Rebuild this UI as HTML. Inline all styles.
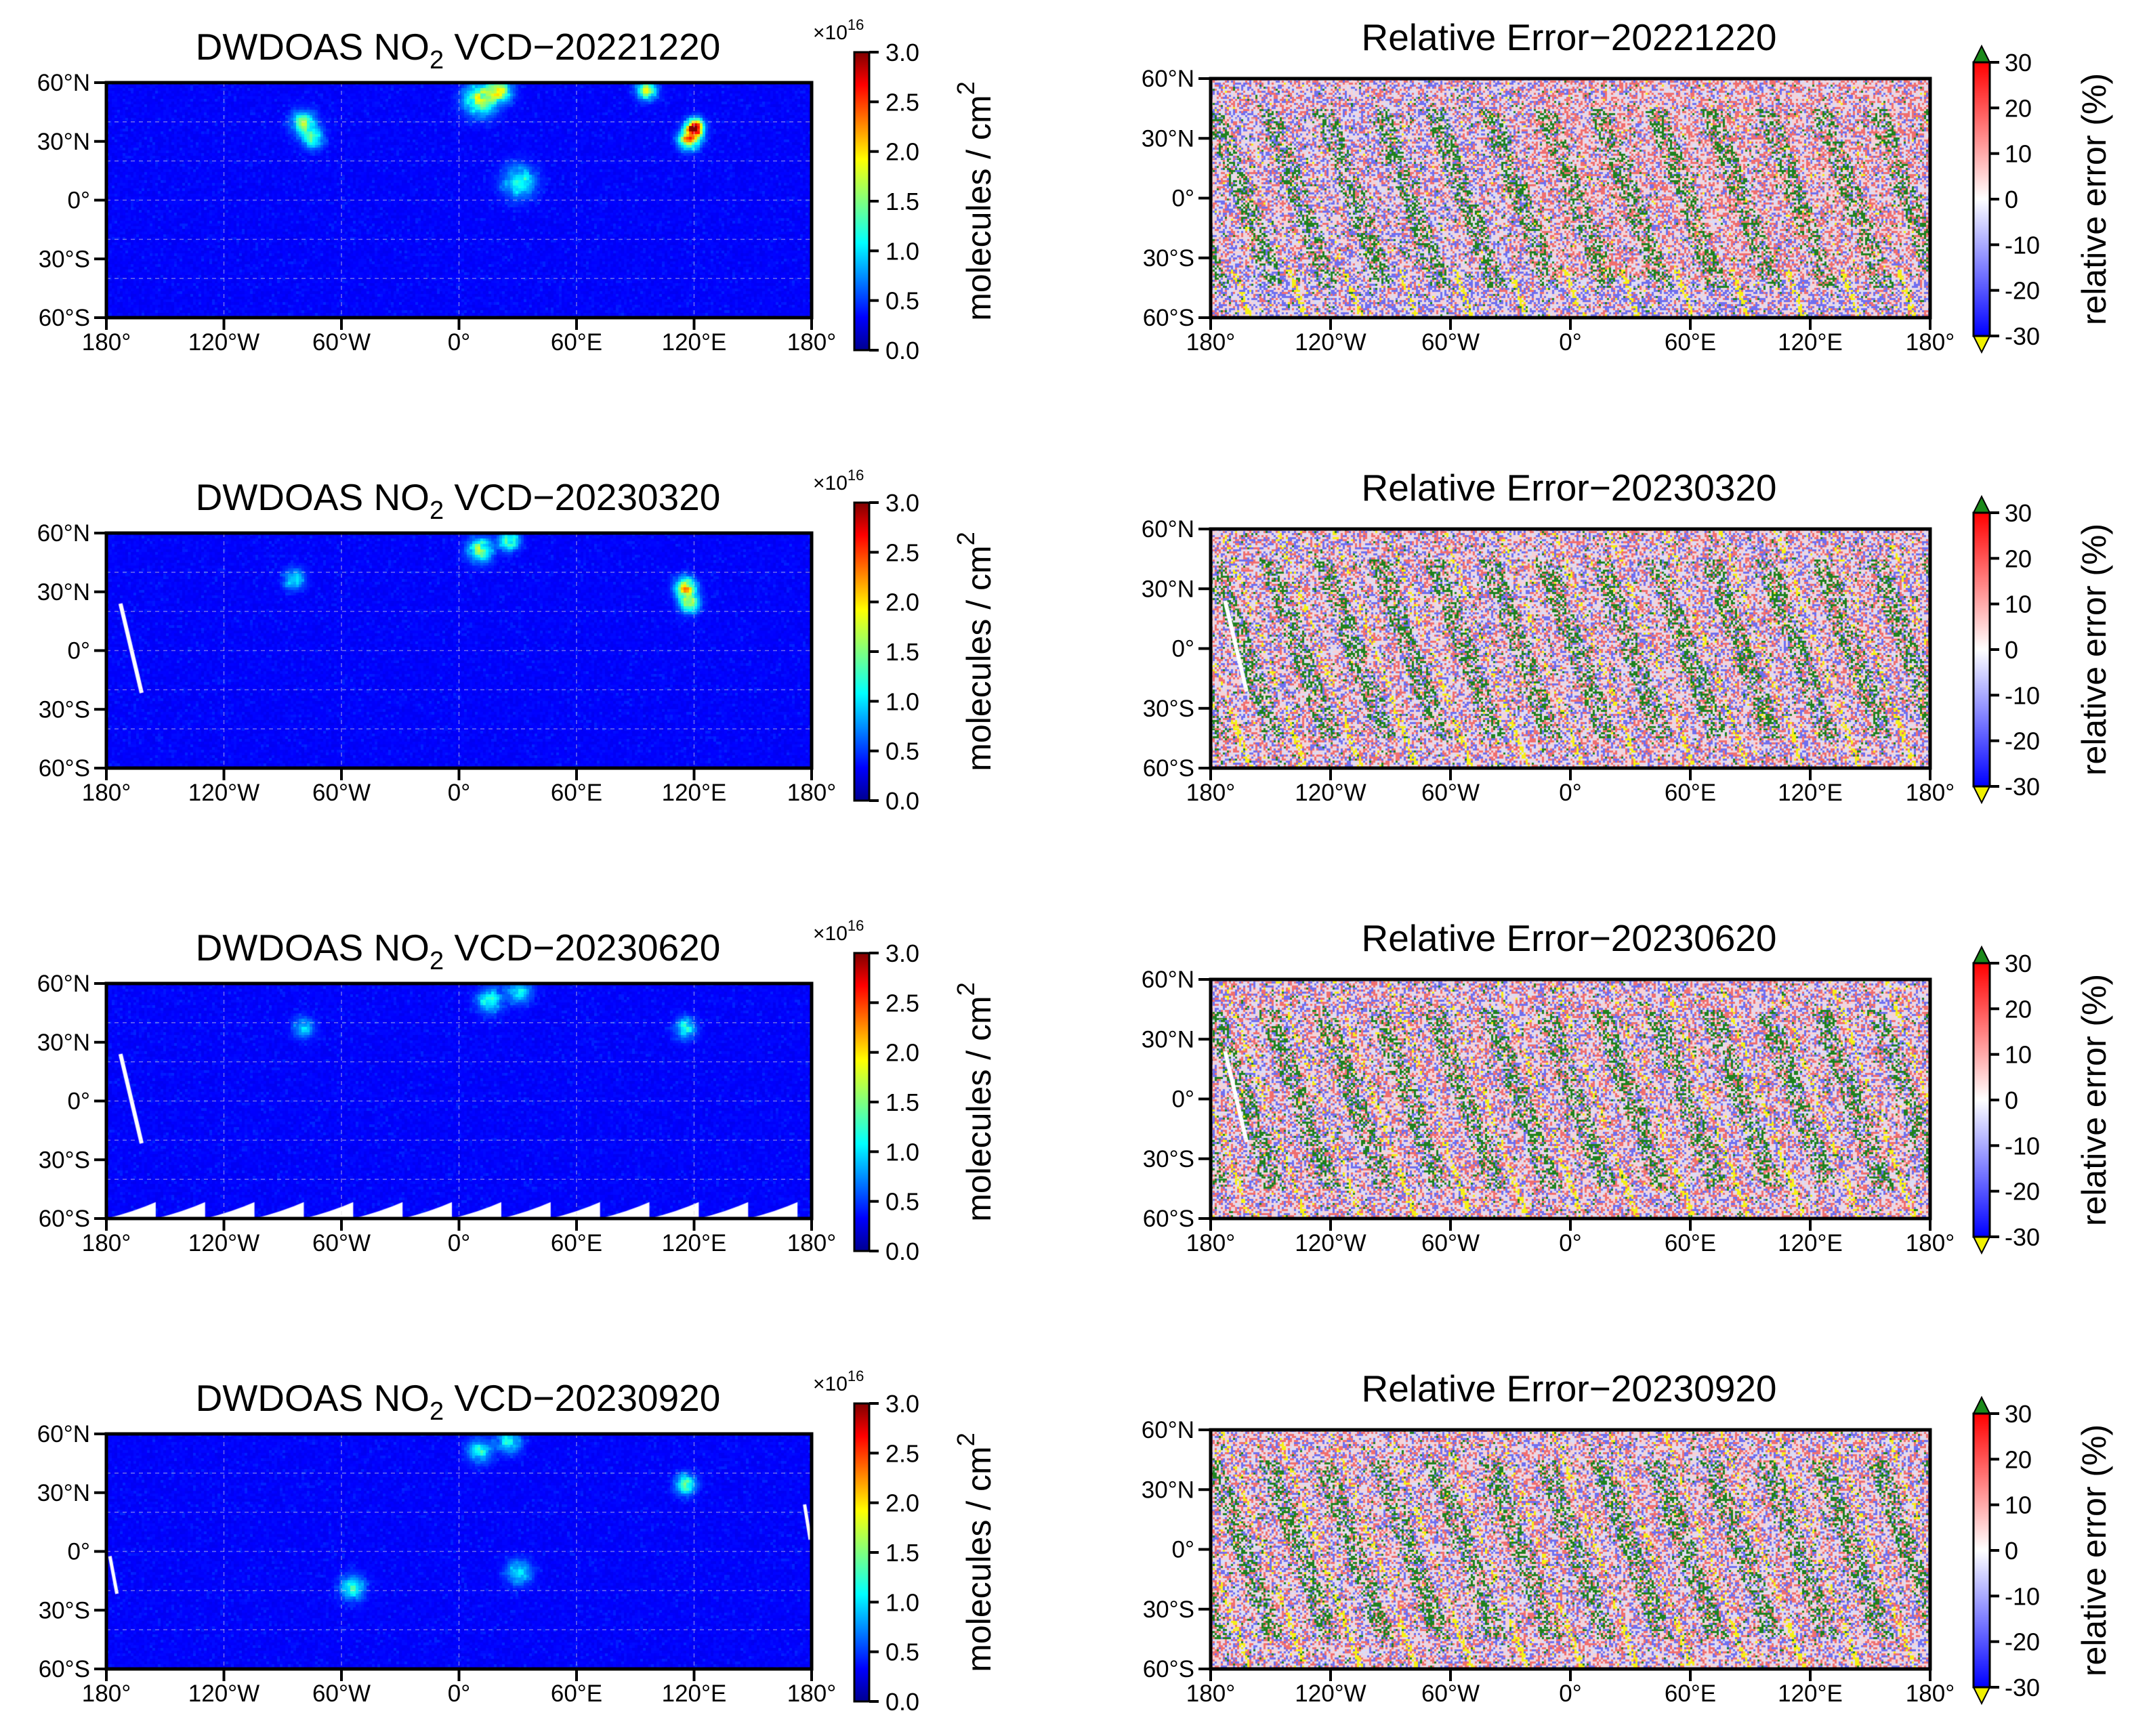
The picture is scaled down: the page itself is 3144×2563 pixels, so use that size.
<!DOCTYPE html>
<html><head><meta charset="utf-8"><style>
html,body{margin:0;padding:0;background:#fff;width:3144px;height:2563px;overflow:hidden}
#root{position:relative;width:3144px;height:2563px}
canvas{position:absolute}
svg{position:absolute;left:0;top:0}
text{font-family:"Liberation Sans",sans-serif;fill:#000}
</style></head><body>
<div id="root">
<svg id="ax" width="3144" height="2563">
<defs>
<linearGradient id="jet" x1="0" y1="1" x2="0" y2="0">
<stop offset="0" stop-color="#00008f"/><stop offset="0.11" stop-color="#0000ff"/><stop offset="0.36" stop-color="#00ffff"/><stop offset="0.5" stop-color="#7fff7f"/><stop offset="0.64" stop-color="#ffff00"/><stop offset="0.89" stop-color="#ff0000"/><stop offset="1" stop-color="#800000"/>
</linearGradient>
<linearGradient id="bwr" x1="0" y1="1" x2="0" y2="0">
<stop offset="0" stop-color="#0000ff"/><stop offset="0.5" stop-color="#ffffff"/><stop offset="1" stop-color="#ff0000"/>
</linearGradient>
</defs>
</svg>
</div>
<script>
const dates=["20221220","20230320","20230620","20230920"];
const lonTicks=[-180,-120,-60,0,60,120,180];
const lonLabels=["180°","120°W","60°W","0°","60°E","120°E","180°"];
const latTicks=[60,30,0,-30,-60];
const latLabels=["60°N","30°N","0°","30°S","60°S"];
const vcdTicks=[0,0.5,1,1.5,2,2.5,3];
const vcdLabels=["0.0","0.5","1.0","1.5","2.0","2.5","3.0"];
const errTicks=[-30,-20,-10,0,10,20,30];
const errLabels=["-30","-20","-10","0","10","20","30"];
const hotLon=[[120,117,10,20,-80,-75,30,95],[115,117,10,25,-85],[115,15,30,-80],[115,10,25,-55,30]];
const hotLat=[[38,32,52,57,40,32,10,57],[33,25,52,57,37],[38,52,57,38],[35,52,57,-18,-10]];
const hotVal=[[2.9,2.0,1.3,1.3,1.1,1.0,0.9,1.3],[1.6,1.2,1.2,1.1,0.8],[0.9,0.9,0.8,0.7],[1.1,0.8,0.8,0.9,0.8]];
const hotRad=[[4,5,8,6,6,5,8,5],[5,5,6,5,5],[5,6,6,5],[5,6,6,6,6]];

const svg=document.getElementById('ax');const root=document.getElementById('root');
const NS='http://www.w3.org/2000/svg';
function mk(tag,attrs,parent){const e=document.createElementNS(NS,tag);for(const k in attrs)e.setAttribute(k,attrs[k]);(parent||svg).appendChild(e);return e;}
function hash(a,b,c){let h=(a*374761393+b*668265263+c*2147483647)|0;h=(h^(h>>>13))*1274126177|0;h=h^(h>>>16);return ((h>>>0)%10000)/10000;}
function jet(v){v=Math.max(0,Math.min(1,v));const r=Math.max(0,Math.min(1,1.5-Math.abs(4*v-3))),g=Math.max(0,Math.min(1,1.5-Math.abs(4*v-2))),b=Math.max(0,Math.min(1,1.5-Math.abs(4*v-1)));return [r*255,g*255,b*255];}

function drawAxes(x0,x1,y0,y1,g){
  const X=l=>x0+(l+180)/360*(x1-x0), Y=t=>y0+(60-t)/120*(y1-y0);
  [-120,-60,0,60,120].forEach(l=>mk('line',{x1:X(l),x2:X(l),y1:y0,y2:y1,stroke:'#ddd','stroke-width':1.5,'stroke-dasharray':'6 6',opacity:0.5},g));
  [40,20,0,-20,-40].forEach(t=>mk('line',{x1:x0,x2:x1,y1:Y(t),y2:Y(t),stroke:'#ddd','stroke-width':1.5,'stroke-dasharray':'6 6',opacity:0.5},g));
  mk('rect',{x:x0,y:y0,width:x1-x0,height:y1-y0,fill:'none',stroke:'#000','stroke-width':5},g);
  lonTicks.forEach((l,i)=>{mk('line',{x1:X(l),x2:X(l),y1:y1,y2:y1+18,stroke:'#000','stroke-width':4},g);
    const t=mk('text',{x:X(l),y:y1+48,'font-size':35,'text-anchor':'middle'},g);t.textContent=lonLabels[i];});
  latTicks.forEach((l,i)=>{mk('line',{x1:x0-18,x2:x0,y1:Y(l),y2:Y(l),stroke:'#000','stroke-width':4},g);
    const t=mk('text',{x:x0-24,y:Y(l)+12,'font-size':35,'text-anchor':'end'},g);t.textContent=latLabels[i];});
  return {X,Y};
}

function vcdMap(r,x0,x1,y0,y1){
  const w=x1-x0,h=y1-y0;const c=document.createElement('canvas');c.width=w;c.height=h;
  c.style.left=x0+'px';c.style.top=y0+'px';
  
  root.insertBefore(c,svg);const ctx=c.getContext('2d');const im=ctx.createImageData(w,h);
  const s=4;
  for(let py=0;py<h;py+=s)for(let px=0;px<w;px+=s){
    const lon=-180+px/w*360,lat=60-py/h*120;
    let v=0.33+0.08*hash(px>>2,py>>2,r)+0.08*(hash(px>>2,py>>2,r+7)>0.9?1:0);
    for(let k=0;k<hotLon[r].length;k++){const d2=((lon-hotLon[r][k])**2+(lat-hotLat[r][k])**2)/(hotRad[r][k]**2);v+=hotVal[r][k]*Math.exp(-d2)*(0.7+0.5*hash(px>>3,py>>3,k));}
    let col=jet(v/3);
    for(let yy=0;yy<s&&py+yy<h;yy++)for(let xx=0;xx<s&&px+xx<w;xx++){const i=((py+yy)*w+px+xx)*4;im.data[i]=col[0];im.data[i+1]=col[1];im.data[i+2]=col[2];im.data[i+3]=255;}
  }
  ctx.putImageData(im,0,0);
  if(r===1||r===2){ctx.strokeStyle='#fff';ctx.lineWidth=6;ctx.beginPath();ctx.moveTo(w*0.02,h*0.3);ctx.lineTo(w*0.05,h*0.68);ctx.stroke();}
  if(r===3){ctx.strokeStyle='#fff';ctx.lineWidth=5;ctx.beginPath();ctx.moveTo(w*0.005,h*0.52);ctx.lineTo(w*0.015,h*0.68);ctx.stroke();ctx.beginPath();ctx.moveTo(w*0.99,h*0.3);ctx.lineTo(w*0.998,h*0.45);ctx.stroke();}
  if(r===2){ctx.fillStyle='#fff';for(let k=0;k<14;k++){const bx=w*(0.07+k*0.07);ctx.beginPath();ctx.moveTo(bx-w*0.07,h);ctx.quadraticCurveTo(bx-w*0.03,h*0.97,bx,h*0.93);ctx.lineTo(bx,h);ctx.fill();}}
}

function errMap(r,x0,x1,y0,y1){
  const w=x1-x0,h=y1-y0;const c=document.createElement('canvas');c.width=w;c.height=h;
  c.style.left=x0+'px';c.style.top=y0+'px';
  
  root.insertBefore(c,svg);const ctx=c.getContext('2d');const im=ctx.createImageData(w,h);
  const s=3;
  for(let py=0;py<h;py+=s)for(let px=0;px<w;px+=s){
    const lon=-180+px/w*360,lat=60-py/h*120;
    const ph=((lon+lat*0.35+200)%27.7)/27.7;
    const q=hash(px/3|0,py/3|0,r+11);
    let col;
    const green=(ph>0.12&&ph<0.5&&lat<45&&lat>-45)?0.35:0.03;
    const yellow=(ph>0.62&&ph<0.72)?(lat<-35?0.5:(r>0?0.25:0.03)):0.01;
    const bias=(r===0)?(lon>-20&&lat>-40?0.2:(lat<-35?-0.15:0)):0.05;
    if(q<green)col=[30,130,30];
    else if(q<green+yellow)col=[245,240,20];
    else{const v=hash(px/3|0,py/3|0,r+29)*2-1+bias;
      if(v>0.55)col=[240,110,110];else if(v>0)col=[245,210,215];else if(v>-0.5)col=[220,220,245];else col=[110,110,240];}
    for(let yy=0;yy<s&&py+yy<h;yy++)for(let xx=0;xx<s&&px+xx<w;xx++){const i=((py+yy)*w+px+xx)*4;im.data[i]=col[0];im.data[i+1]=col[1];im.data[i+2]=col[2];im.data[i+3]=255;}
  }
  ctx.putImageData(im,0,0);
  if(r===1||r===2){ctx.strokeStyle='#fff';ctx.lineWidth=6;ctx.beginPath();ctx.moveTo(w*0.02,h*0.3);ctx.lineTo(w*0.05,h*0.68);ctx.stroke();}
}

for(let r=0;r<4;r++){
  const off=r*665;
  const g=mk('g',{});
  const L={x0:157,x1:1198,y0:122+off,y1:469+off};
  vcdMap(r,L.x0,L.x1,L.y0,L.y1);
  drawAxes(L.x0,L.x1,L.y0,L.y1,g);
  const t1=mk('text',{x:676,y:88+off,'font-size':55,'text-anchor':'middle'},g);
  
  t1.innerHTML='DWDOAS NO<tspan font-size="38" dy="13">2</tspan><tspan dy="-13"> VCD−'+dates[r]+'</tspan>';
  const cb={x:1261,w:22,top:77+off,bot:517+off};
  const cr=mk('rect',{x:cb.x,y:cb.top,width:cb.w,height:cb.bot-cb.top,fill:'url(#jet)',stroke:'#000','stroke-width':3},g);
  
  vcdTicks.forEach((v,i)=>{const y=cb.bot-(v/3)*(cb.bot-cb.top);mk('line',{x1:cb.x+cb.w,x2:cb.x+cb.w+14,y1:y,y2:y,stroke:'#000','stroke-width':4},g);
    const t=mk('text',{x:cb.x+cb.w+24,y:y+13,'font-size':36},g);t.textContent=vcdLabels[i];});
  const sx=mk('text',{x:1200,y:58+off,'font-size':30},g);sx.innerHTML='×10<tspan font-size="22" dy="-14">16</tspan>';
  
  const yl=mk('text',{x:0,y:0,'font-size':50,'text-anchor':'middle',transform:`translate(1462,${297+off}) rotate(-90)`},g);
  yl.innerHTML='molecules / cm<tspan font-size="36" dy="-24">2</tspan>';
  
  const R={x0:1787,x1:2849,y0:116+off,y1:469+off};
  errMap(r,R.x0,R.x1,R.y0,R.y1);
  drawAxes(R.x0,R.x1,R.y0,R.y1,g);
  const t2=mk('text',{x:2316,y:74+off,'font-size':55,'text-anchor':'middle'},g);
  t2.textContent='Relative Error−'+dates[r];
  const eb={x:2913,w:24,top:92+off,bot:496+off};
  mk('polygon',{points:`${eb.x},${eb.top} ${eb.x+eb.w},${eb.top} ${eb.x+eb.w/2},${eb.top-24}`,fill:'#1a8a1a',stroke:'#000','stroke-width':2},g);
  mk('polygon',{points:`${eb.x},${eb.bot} ${eb.x+eb.w},${eb.bot} ${eb.x+eb.w/2},${eb.bot+24}`,fill:'#f0f000',stroke:'#000','stroke-width':2},g);
  const er=mk('rect',{x:eb.x,y:eb.top,width:eb.w,height:eb.bot-eb.top,fill:'url(#bwr)',stroke:'#000','stroke-width':3},g);
  
  errTicks.forEach((v,i)=>{const y=eb.bot-((v+30)/60)*(eb.bot-eb.top);mk('line',{x1:eb.x+eb.w,x2:eb.x+eb.w+14,y1:y,y2:y,stroke:'#000','stroke-width':4},g);
    const t=mk('text',{x:eb.x+eb.w+22,y:y+13,'font-size':36},g);t.textContent=errLabels[i];});
  const el=mk('text',{x:0,y:0,'font-size':50,'text-anchor':'middle',transform:`translate(3108,${294+off}) rotate(-90)`},g);
  el.textContent='relative error (%)';
}
</script>
</body></html>
